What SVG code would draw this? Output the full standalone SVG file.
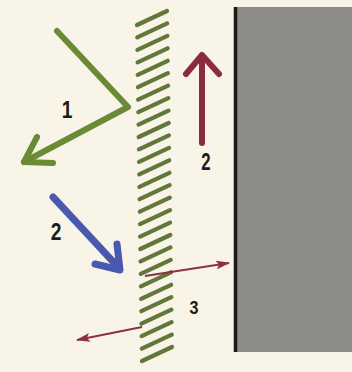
<svg xmlns="http://www.w3.org/2000/svg" width="352" height="372" viewBox="0 0 352 372">
  <defs>
    <style>
      .lbl { font-family: "Liberation Sans", Arial, sans-serif; font-weight: bold; fill: #1e1c1a; text-anchor: middle; }
      .hatch line { stroke: #62783a; stroke-width: 4.2; stroke-linecap: round; }
      .thick { fill: none; stroke-linecap: round; stroke-linejoin: round; }
      .thin { stroke: #8b3242; stroke-width: 2; fill: none; }
    </style>
    <marker id="tri" viewBox="0 0 14 9" refX="13" refY="4.5" markerWidth="14" markerHeight="9" markerUnits="userSpaceOnUse" orient="auto">
      <path d="M0,0 L14,4.5 L0,9 L3,4.5 Z" fill="#8b3242"/>
    </marker>
  </defs>
  <rect width="352" height="372" fill="#f8f4e7"/>

  <g id="wall">
    <rect x="234" y="7" width="118" height="345" fill="#8c8b88"/>
    <line x1="235.5" y1="7" x2="235.5" y2="352" stroke="#1a1714" stroke-width="3.5"/>
  </g>

  <g id="membrane" class="hatch">
    <line x1="137.0" y1="25.0" x2="167.0" y2="11.0"/>
    <line x1="137.2" y1="37.4" x2="167.2" y2="23.4"/>
    <line x1="137.4" y1="49.9" x2="167.4" y2="35.9"/>
    <line x1="137.6" y1="62.3" x2="167.6" y2="48.3"/>
    <line x1="137.7" y1="74.8" x2="167.7" y2="60.8"/>
    <line x1="137.9" y1="87.2" x2="167.9" y2="73.2"/>
    <line x1="138.1" y1="99.7" x2="168.1" y2="85.7"/>
    <line x1="138.3" y1="112.1" x2="168.3" y2="98.1"/>
    <line x1="138.5" y1="124.6" x2="168.5" y2="110.6"/>
    <line x1="138.7" y1="137.0" x2="168.7" y2="123.0"/>
    <line x1="138.9" y1="149.4" x2="168.9" y2="135.4"/>
    <line x1="139.0" y1="161.9" x2="169.0" y2="147.9"/>
    <line x1="139.2" y1="174.3" x2="169.2" y2="160.3"/>
    <line x1="139.4" y1="186.8" x2="169.4" y2="172.8"/>
    <line x1="139.6" y1="199.2" x2="169.6" y2="185.2"/>
    <line x1="139.8" y1="211.7" x2="169.8" y2="197.7"/>
    <line x1="140.0" y1="224.1" x2="170.0" y2="210.1"/>
    <line x1="140.1" y1="236.6" x2="170.1" y2="222.6"/>
    <line x1="140.3" y1="249.0" x2="170.3" y2="235.0"/>
    <line x1="140.5" y1="261.4" x2="170.5" y2="247.4"/>
    <line x1="140.7" y1="273.9" x2="170.7" y2="259.9"/>
    <line x1="140.9" y1="286.3" x2="170.9" y2="272.3"/>
    <line x1="141.1" y1="298.8" x2="171.1" y2="284.8"/>
    <line x1="141.3" y1="311.2" x2="171.3" y2="297.2"/>
    <line x1="141.4" y1="323.7" x2="171.4" y2="309.7"/>
    <line x1="141.6" y1="336.1" x2="171.6" y2="322.1"/>
    <line x1="141.8" y1="348.6" x2="171.8" y2="334.6"/>
    <line x1="142.0" y1="361.0" x2="172.0" y2="347.0"/>
  </g>

  <g id="connectors">
    <g id="ray1" class="thick" stroke="#6b8a36" stroke-width="6">
      <polyline points="57,31 128,107 24,162"/>
      <polyline points="37,137 24,162 53,163"/>
    </g>
    <g id="ray2-blue" class="thick" stroke="#4a59b0" stroke-width="7">
      <line x1="53" y1="197" x2="118" y2="267"/>
      <polyline points="95,264 120,270 117,244"/>
    </g>
    <g id="ray2-red" class="thick" stroke="#8b2c3e" stroke-width="6">
      <line x1="202" y1="143" x2="202" y2="56"/>
      <polyline points="186,74 202,55 219,74"/>
    </g>
    <g id="ray3" class="thin">
      <line x1="145" y1="276" x2="229" y2="263" marker-end="url(#tri)"/>
      <line x1="142" y1="327" x2="77" y2="340" marker-end="url(#tri)"/>
    </g>
  </g>

  <g id="label-1"><text class="lbl" transform="translate(67,118) scale(0.8,1)" font-size="24" style="font-weight:600">1</text></g>
  <g id="label-2a"><text class="lbl" transform="translate(56,240) scale(0.8,1)" font-size="24">2</text></g>
  <g id="label-2b"><text class="lbl" transform="translate(206,170) scale(0.7,1)" font-size="24">2</text></g>
  <g id="label-3"><text class="lbl" transform="translate(194,314) scale(0.85,1)" font-size="19">3</text></g>
</svg>
